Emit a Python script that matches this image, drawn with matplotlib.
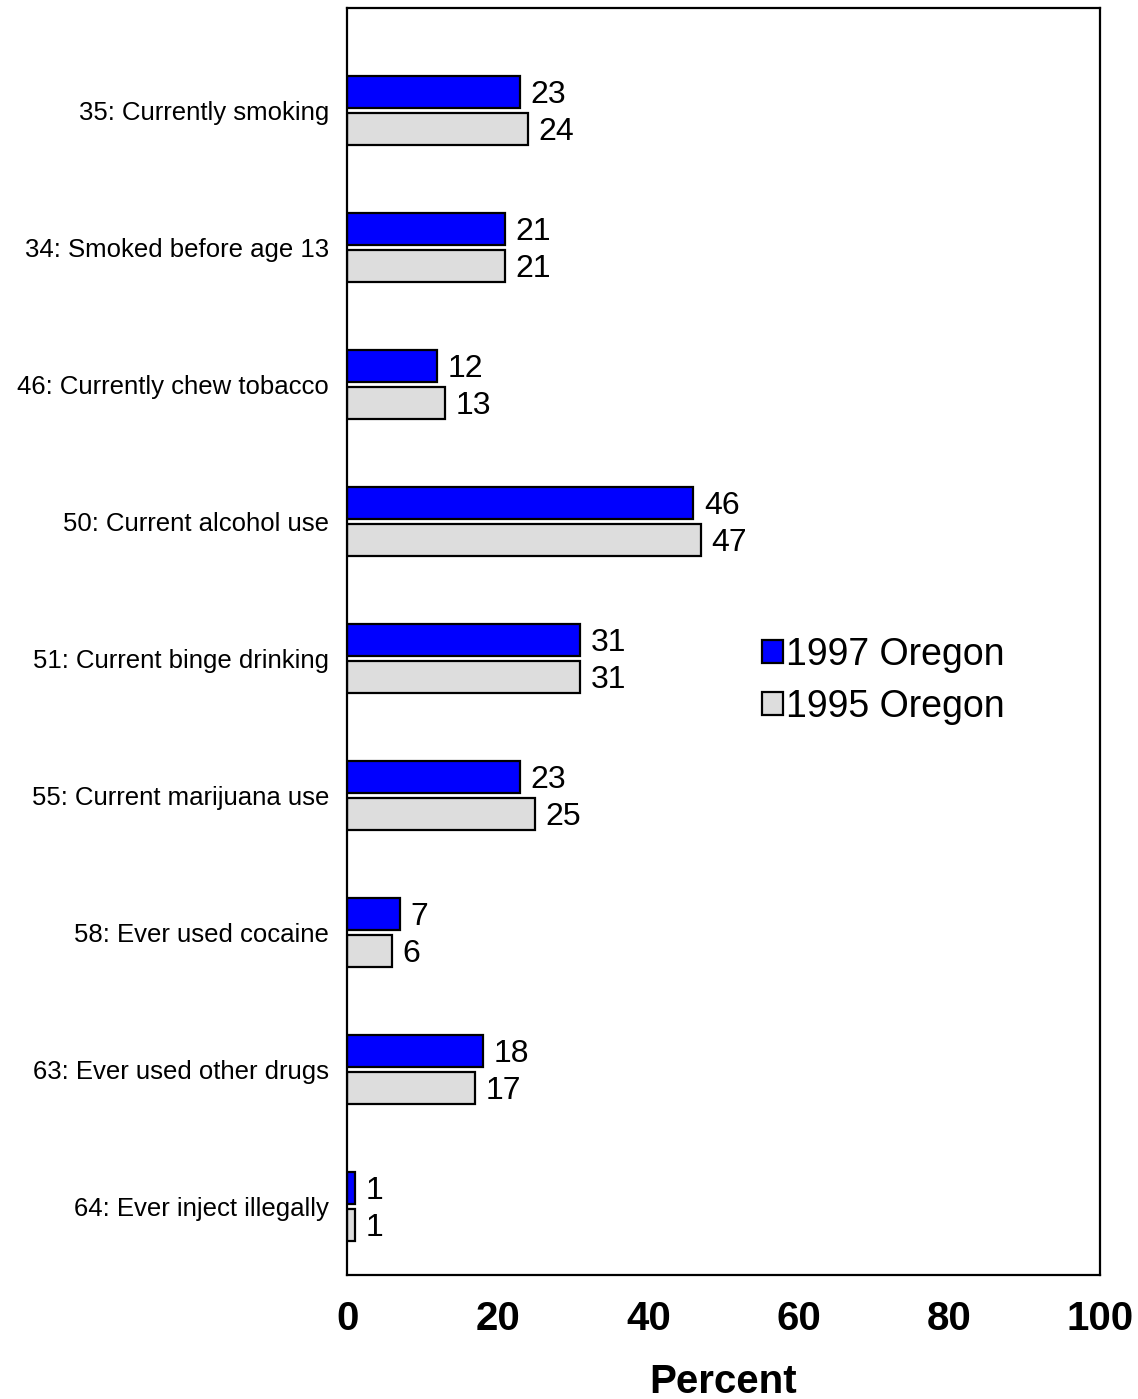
import numpy as np
import matplotlib.pyplot as plt

plt.rcParams['font.family'] = ['Liberation Sans', 'DejaVu Sans']

categories = ["35: Currently smoking", "34: Smoked before age 13",
              "46: Currently chew tobacco", "50: Current alcohol use",
              "51: Current binge drinking", "55: Current marijuana use",
              "58: Ever used cocaine", "63: Ever used other drugs",
              "64: Ever inject illegally"]
y1997 = [23, 21, 12, 46, 31, 23, 7, 18, 1]
y1995 = [24, 21, 13, 47, 31, 25, 6, 17, 1]
ticks = [0, 20, 40, 60, 80, 100]

fig = plt.figure(figsize=(11.38, 13.99), dpi=100)
ax = fig.add_axes([0.305, 0.0886, 0.6616, 0.9057])

pos = np.arange(len(categories))
h = 0.234
off = 0.136
ax.barh(pos - off, y1997, height=h, color="#0000ff", edgecolor="black", linewidth=1.6, label="1997 Oregon")
ax.barh(pos + off, y1995, height=h, color="#dddddd", edgecolor="black", linewidth=1.6, label="1995 Oregon")

for i in range(len(categories)):
    ax.text(y1997[i] + 1.4, pos[i] - off + 0.02, str(y1997[i]), va="center", ha="left", fontsize=23)
    ax.text(y1995[i] + 1.4, pos[i] + off + 0.02, str(y1995[i]), va="center", ha="left", fontsize=23)

ax.set_xlim(0, 100)
ax.set_ylim(8.5, -0.75)
ax.set_yticks(pos)
ax.set_yticklabels(categories, fontsize=18.5)
ax.set_xticks(ticks)
ax.set_xticklabels([str(t) for t in ticks], fontsize=29, fontweight="bold")
ax.tick_params(axis="both", length=0)
ax.tick_params(axis="y", pad=13)
ax.tick_params(axis="x", pad=18)
ax.set_xlabel("Percent", fontsize=29, fontweight="bold", labelpad=18)
for s in ax.spines.values():
    s.set_linewidth(1.6)

ax.legend(loc="center left", bbox_to_anchor=(0.551, 0.469), frameon=False, fontsize=27,
          handlelength=0.56, handleheight=0.56, handletextpad=0.08, labelspacing=0.43,
          borderpad=0, borderaxespad=0)

fig.savefig("out.png", dpi=100)
